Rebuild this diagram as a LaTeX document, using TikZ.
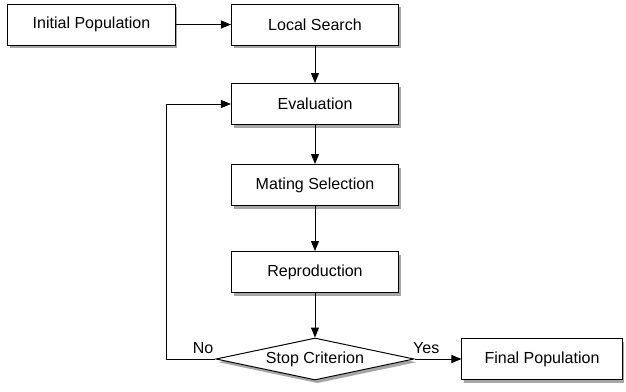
\documentclass[tikz,border=0pt]{standalone}
\usepackage{fontspec}
\setmainfont{Liberation Sans}
\usetikzlibrary{
    arrows.meta,
    positioning,
    shapes.geometric,
    shadows
}
\tikzset{
  stepbox/.style  = {draw, fill=white, line width=0.7pt, minimum width=4.175cm,
                     minimum height=1.025cm, align=center,
                     font=\fontsize{11.4}{13}\selectfont,
                     drop shadow={shadow xshift=0.06cm, shadow yshift=-0.08cm,
                                  opacity=0.35, fill=black}},
  decide/.style   = {draw, fill=white, diamond, aspect=4.7, inner sep=1pt,
                     line width=0.7pt, minimum width=4.95cm, minimum height=1.05cm,
                     font=\fontsize{11.4}{13}\selectfont,
                     drop shadow={shadow xshift=0.06cm, shadow yshift=-0.08cm,
                                  opacity=0.35, fill=black}},
  arr/.style      = {-{Triangle[length=2.5mm,width=2mm]}, line width=0.7pt},
  lbl/.style      = {font=\fontsize{11.4}{13}\selectfont}
}

\begin{document}
\begin{tikzpicture}[x=0.025cm, y=-0.025cm]
\useasboundingbox (0,0) rectangle (626,391);
% boxes
\node[stepbox] (init) at (91.5,24.5) {Initial Population};
\node[stepbox] (local) at (315,24.5) {Local Search};
\node[stepbox] (eval) at (315,104) {Evaluation};
\node[stepbox] (mating) at (315,185) {Mating Selection};
\node[stepbox] (repro) at (315,272) {Reproduction};
\node[decide] (stop) at (315,359) {Stop Criterion};
\node[stepbox, minimum width=4.0cm] (final) at (542,359) {Final Population};
\coordinate (back) at (166,359);
% arrows
\draw[arr] (init) -- (local);
\draw[arr] (local) -- (eval);
\draw[arr] (eval) -- (mating);
\draw[arr] (mating) -- (repro);
\draw[arr] (repro) -- (stop);
\draw[arr] (stop) -- node[lbl, pos=0.25, above] {Yes} (final);
\draw[arr] (stop.west) -- node[lbl, pos=0.25, above] {No} (back) |- (eval.west);
\end{tikzpicture}
\end{document}
